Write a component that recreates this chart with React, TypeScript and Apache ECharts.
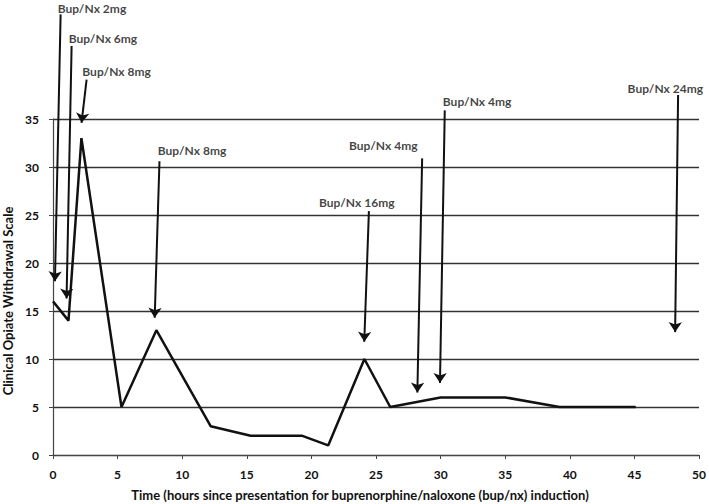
import React, { useEffect, useRef } from "react";
import * as echarts from "echarts";

// COWS score over time
const timeHours = [0, 1.2, 2.2, 5.3, 8, 12.2, 15.3, 19.3, 21.3, 24.1, 26.1, 30, 35, 39.2, 45.1];
const cowsScore = [16, 14, 33, 5, 13, 3, 2, 2, 1, 10, 5, 6, 6, 5, 5];

// Dose annotations: label, label anchor (x, y), arrow start (x, y), arrow tip (x, y)
const doseLabels = ["Bup/Nx 2mg", "Bup/Nx 6mg", "Bup/Nx 8mg", "Bup/Nx 8mg", "Bup/Nx 16mg", "Bup/Nx 4mg", "Bup/Nx 4mg", "Bup/Nx 24mg"];
const labelX = [0.36, 1.21, 2.27, 8.11, 20.59, 22.91, 30.17, 44.47];
const labelY = [46.5, 43.4, 40.0, 31.7, 26.3, 32.2, 36.8, 38.2];
const arrowStartX = [0.59, 1.44, 2.6, 8.24, 24.45, 28.57, 30.32, 48.38];
const arrowStartY = [45.9, 42.6, 39.1, 30.6, 25.4, 30.9, 35.9, 37.5];
const arrowEndX = [0.15, 1.05, 2.21, 7.87, 24.09, 28.2, 29.95, 48.15];
const arrowEndY = [18.1, 16.3, 34.6, 14.3, 11.8, 6.5, 7.5, 12.8];

const yTicks = [0, 5, 10, 15, 20, 25, 30, 35];
const xTicks = [0, 5, 10, 15, 20, 25, 30, 35, 40, 45, 50];

const FONT = "Lato";

export default function App() {
  const ref = useRef<HTMLDivElement>(null);
  useEffect(() => {
    document.body.style.margin = "0";
    if (!ref.current) return;
    const chart = echarts.init(ref.current, null, { renderer: "svg" });
    const linePoints = timeHours.map((t, i) => [t, cowsScore[i]]);
    const arrows = doseLabels.map((_, i) => ({
      coords: [
        [arrowStartX[i], arrowStartY[i]],
        [arrowEndX[i], arrowEndY[i]],
      ],
    }));
    const labels = doseLabels.map((name, i) => ({ value: [labelX[i], labelY[i]], name }));
    chart.setOption({
      animation: false,
      backgroundColor: "#ffffff",
      grid: { left: 53, right: 8, top: 119, bottom: 49 },
      xAxis: {
        type: "value",
        min: xTicks[0],
        max: xTicks[xTicks.length - 1],
        interval: 5,
        axisLine: { show: true, lineStyle: { color: "#444", width: 1.2 } },
        axisTick: { show: true, length: 4, lineStyle: { color: "#444" } },
        splitLine: { show: false },
        axisLabel: { color: "#111", fontFamily: FONT, fontWeight: "bold", fontSize: 12, margin: 13 },
      },
      yAxis: {
        type: "value",
        min: yTicks[0],
        max: yTicks[yTicks.length - 1],
        interval: 5,
        axisLine: { show: true, lineStyle: { color: "#444", width: 1.2 } },
        axisTick: { show: true, length: 4, lineStyle: { color: "#444" } },
        splitLine: { show: true, lineStyle: { color: "#333", width: 1.3 } },
        axisLabel: { color: "#111", fontFamily: FONT, fontWeight: "bold", fontSize: 12, margin: 14 },
      },
      graphic: [
        {
          type: "text",
          x: 8,
          y: 301,
          rotation: Math.PI / 2,
          style: {
            text: "Clinical Opiate Withdrawal Scale",
            fontFamily: FONT,
            fontWeight: "bold",
            fontSize: 13,
            fill: "#111",
            align: "center",
            verticalAlign: "middle",
          },
        },
        {
          type: "text",
          x: 360,
          y: 495,
          style: {
            text: "Time (hours since presentation for buprenorphine/naloxone (bup/nx) induction)",
            fontFamily: FONT,
            fontWeight: "bold",
            fontSize: 13,
            fill: "#111",
            align: "center",
            verticalAlign: "middle",
          },
        },
      ],
      series: [
        {
          type: "line",
          data: linePoints,
          symbol: "none",
          lineStyle: { color: "#111", width: 2.5 },
          z: 3,
        },
        {
          type: "lines",
          coordinateSystem: "cartesian2d",
          clip: false,
          data: arrows,
          symbol: ["none", "arrow"],
          symbolSize: 10,
          lineStyle: { color: "#111", width: 2, opacity: 1 },
          z: 4,
        },
        {
          type: "scatter",
          data: labels,
          symbolSize: 0,
          clip: false,
          label: {
            show: true,
            position: "right",
            distance: 0,
            formatter: (p: any) => p.name,
            fontFamily: FONT,
            fontWeight: "bold",
            fontSize: 12,
            color: "#111",
          },
          z: 5,
        },
      ],
    });
    return () => chart.dispose();
  }, []);
  return <div ref={ref} style={{ width: 709, height: 504 }} />;
}
